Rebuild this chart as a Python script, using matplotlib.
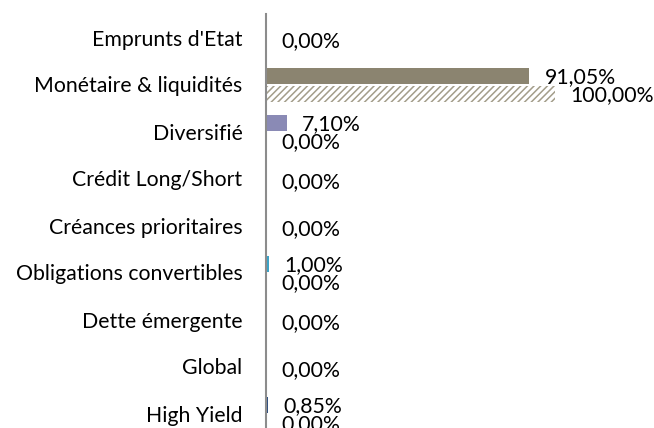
import matplotlib
matplotlib.use("Agg")
import matplotlib.pyplot as plt
import numpy as np

categories = ["Emprunts d'Etat", "Monétaire & liquidités", "Diversifié", "Crédit Long/Short",
              "Créances prioritaires", "Obligations convertibles", "Dette émergente", "Global", "High Yield"]
portfolio = [None, 91.05, 7.10, None, None, 1.00, None, None, 0.85]
benchmark = [0.00, 100.00, 0.00, 0.00, 0.00, 0.00, 0.00, 0.00, 0.00]
portfolio_colors = ["#8B8470", "#8B8470", "#8A8AB5", "#8B8470", "#8B8470", "#3BA3C8", "#8B8470", "#8B8470", "#2F4F80"]

plt.rcParams['font.family'] = ['Lato', 'DejaVu Sans']
plt.rcParams['hatch.linewidth'] = 1.1

fig = plt.figure(figsize=(6.54, 4.28), dpi=100)
ax = fig.add_axes([266/654, -9/428, (654-266)/654, 423/428])

def fmt(v):
    return f"{v:.2f}".replace(".", ",") + "%"

FS = 15.3
n = len(categories)
y = np.arange(n)
h = 0.34
off_p = -0.19
off_b = 0.20
for i in range(n):
    p = portfolio[i]
    b = benchmark[i]
    if p is not None:
        ax.barh(y[i] + off_p, p, height=h, color=portfolio_colors[i], linewidth=0)
        ax.barh(y[i] + off_b, b, height=h, color="white", edgecolor="#A39D8A",
                hatch="/////", linewidth=0)
        ax.annotate(fmt(p), (p, y[i] + off_p + 0.03), xytext=(11, 0), textcoords="offset points",
                    va="center", ha="left", fontsize=FS, color="black")
        ax.annotate(fmt(b), (b, y[i] + off_b + 0.02), xytext=(11, 0), textcoords="offset points",
                    va="center", ha="left", fontsize=FS, color="black")
    else:
        ax.barh(y[i], b, height=h, color="white", edgecolor="#A39D8A", hatch="/////", linewidth=0)
        ax.annotate(fmt(b), (b, y[i] + 0.07), xytext=(11, 0), textcoords="offset points",
                    va="center", ha="left", fontsize=FS, color="black")

ax.set_ylim(n - 0.5, -0.5)
ax.set_xlim(0, 388 / 2.89)
ax.set_yticks(y)
ax.set_yticklabels(categories, fontsize=FS)
ax.tick_params(axis="y", length=0, pad=17)
ax.set_xticks([])
for s in ["top", "right", "bottom"]:
    ax.spines[s].set_visible(False)
ax.spines["left"].set_color("#8C8C8C")
ax.spines["left"].set_linewidth(1.5)
ax.set_facecolor("none")

fig.savefig("out.png", dpi=100)
